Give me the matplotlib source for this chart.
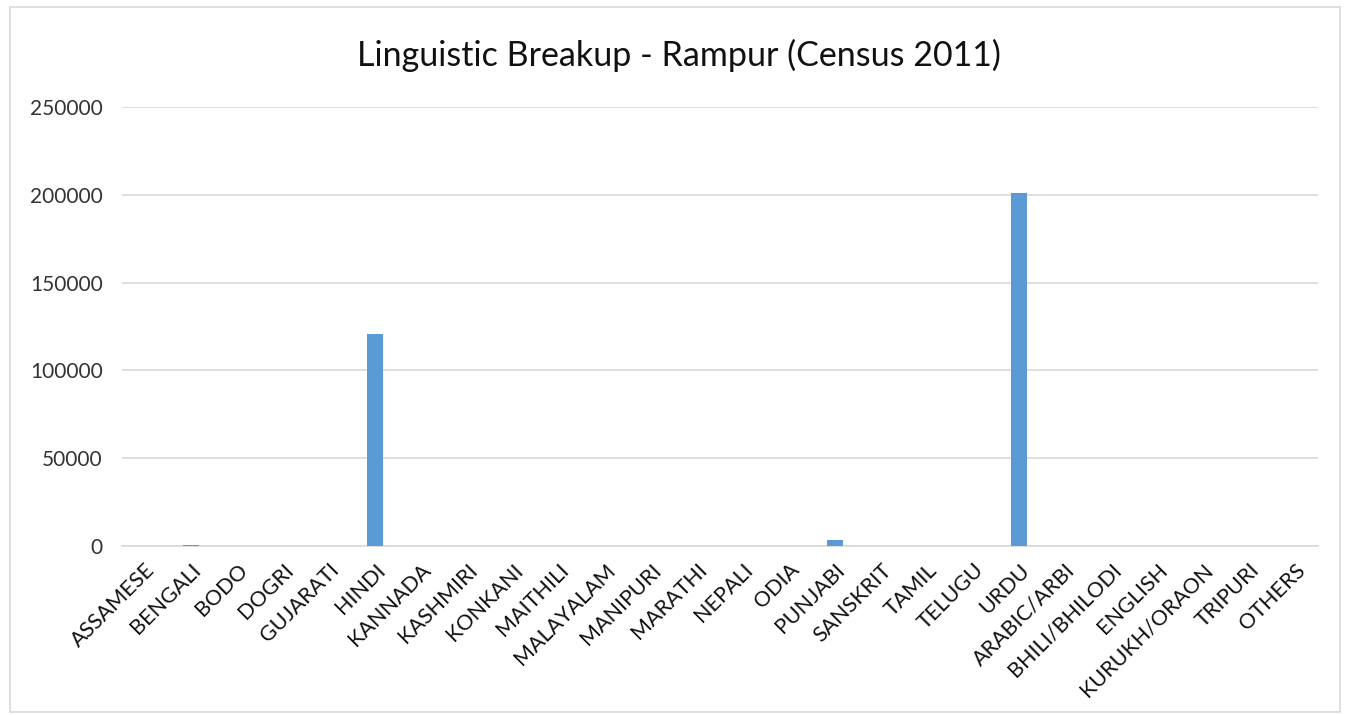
import matplotlib.pyplot as plt
from matplotlib.patches import Rectangle

# languages and speaker counts
languages = ['ASSAMESE', 'BENGALI', 'BODO', 'DOGRI', 'GUJARATI', 'HINDI', 'KANNADA',
             'KASHMIRI', 'KONKANI', 'MAITHILI', 'MALAYALAM', 'MANIPURI', 'MARATHI',
             'NEPALI', 'ODIA', 'PUNJABI', 'SANSKRIT', 'TAMIL', 'TELUGU', 'URDU',
             'ARABIC/ARBI', 'BHILI/BHILODI', 'ENGLISH', 'KURUKH/ORAON', 'TRIPURI', 'OTHERS']
speakers = [50, 700, 20, 20, 150, 121000, 40, 30, 20, 60, 50, 10, 150,
            150, 60, 3400, 60, 80, 40, 200800, 100, 30, 120, 10, 5, 200]
yticks = [0, 50000, 100000, 150000, 200000, 250000]

plt.rcParams['font.family'] = ['Lato', 'DejaVu Sans']

fig = plt.figure(figsize=(13.53, 7.15), dpi=100)
fig.patches.append(Rectangle((10 / 1353, 3 / 715), 1330 / 1353, 705 / 715,
                             transform=fig.transFigure, fill=False,
                             edgecolor='#d9d9d9', linewidth=1.2))

ax = fig.add_axes([122 / 1353, 1 - 546 / 715, 1196 / 1353, 439 / 715])
x = range(len(languages))
ax.bar(x, speakers, width=0.35, color='#5b9bd5', zorder=3)

ax.set_xlim(-0.5, len(languages) - 0.5)
ax.set_ylim(0, 250000)
ax.set_yticks(yticks)
ax.set_yticklabels([str(v) for v in yticks], fontsize=15, color='#333333')
ax.set_xticks(list(x))
ax.set_xticklabels(languages, rotation=45, ha='right', rotation_mode='anchor',
                   fontsize=15.5, color='#111111')
ax.tick_params(axis='x', length=0, pad=10)
ax.tick_params(axis='y', length=0, pad=14)
ax.grid(axis='y', color='#d9d9d9', linewidth=1.2, zorder=0)
for s in ['top', 'right', 'left']:
    ax.spines[s].set_visible(False)
ax.spines['bottom'].set_color('#d9d9d9')
ax.spines['bottom'].set_linewidth(1.2)

fig.text(679 / 1353, 1 - 55 / 715, 'Linguistic Breakup - Rampur (Census 2011)',
         ha='center', va='center', fontsize=24.5, color='#111111')

plt.savefig('out.png', dpi=100)
